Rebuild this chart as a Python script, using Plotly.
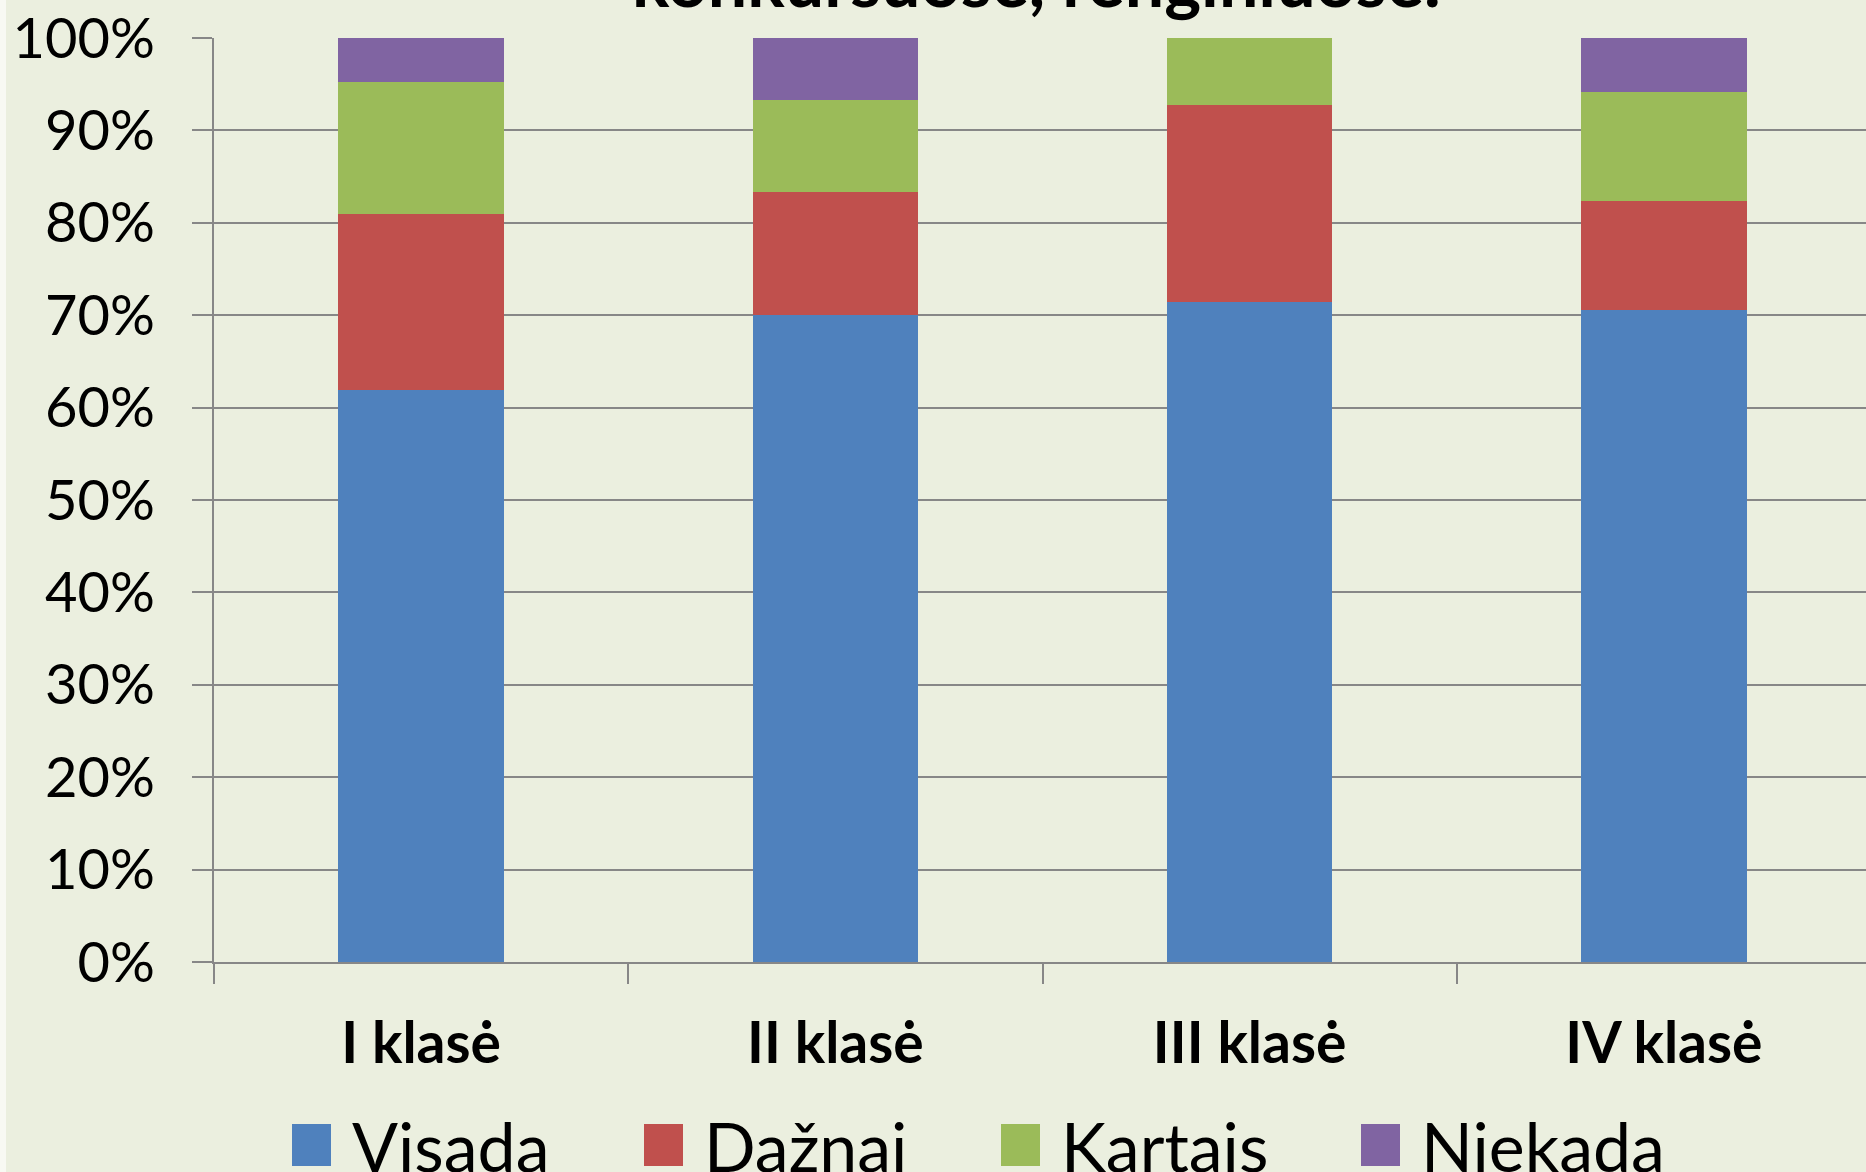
import plotly.graph_objects as go

categories = ["I klasė", "II klasė", "III klasė", "IV klasė"]
series_names = ["Visada", "Dažnai", "Kartais", "Niekada"]
visada = [0.619, 0.700, 0.714, 0.706]
daznai = [0.190, 0.133, 0.214, 0.118]
kartais = [0.143, 0.100, 0.072, 0.118]
niekada = [0.048, 0.067, 0.000, 0.058]
series_values = [visada, daznai, kartais, niekada]
colors = ["#4F81BD", "#C0504D", "#9BBB59", "#8064A2"]
title_text = "konkursuose, renginiuose."
y_tickvals = [i / 10 for i in range(11)]

W, H = 1866, 1172
ML, MT, MB = 214, 38, 210
PW = W - ML
PH = H - MT - MB
BG = "#EBEFDF"
GRID = "#878787"
FONT = "Lato"

fig = go.Figure()
for name, vals, col in zip(series_names, series_values, colors):
    fig.add_trace(go.Bar(x=categories, y=vals, name=name, marker=dict(color=col, line=dict(width=0)),
                         showlegend=False))

units_per_px = 4 / 1657
fig.update_layout(
    width=W, height=H,
    barmode="stack", bargap=0.6,
    paper_bgcolor=BG, plot_bgcolor=BG,
    margin=dict(l=ML, r=0, t=MT, b=MB, pad=0),
    xaxis=dict(range=[-0.5, -0.5 + PW * units_per_px], showline=True, linecolor=GRID, linewidth=2,
               ticks="outside", tickson="boundaries", ticklen=20, tickwidth=2, tickcolor=GRID,
               tickfont=dict(family=FONT, size=57, color="black", weight="bold"),
               ticklabelstandoff=31, showgrid=False),
    yaxis=dict(range=[0, 1], tickvals=y_tickvals, tickformat=".0%", showline=True, linecolor=GRID,
               linewidth=2, ticks="outside", ticklen=20, tickwidth=2, tickcolor=GRID,
               showgrid=True, gridcolor=GRID, gridwidth=2, zeroline=False,
               tickfont=dict(family=FONT, size=56, color="black"), ticklabelstandoff=26),
)

# title (partly cut off at top in the reference)
fig.add_annotation(text=title_text, xref="paper", yref="paper", x=0.498, y=1.015,
                   xanchor="center", yanchor="bottom", showarrow=False,
                   font=dict(family=FONT, size=70, color="black", weight="bold"))

# legend drawn with big square keys
leg_x = [292, 644, 1001, 1361]
sq_top, sq_bot = 1124, 1166
for px, name, col in zip(leg_x, series_names, colors):
    x0 = (px - ML) / PW
    x1 = (px + 39 - ML) / PW
    y0 = (H - MB - sq_bot) / PH
    y1 = (H - MB - sq_top) / PH
    fig.add_shape(type="rect", xref="paper", yref="paper", x0=x0, x1=x1, y0=y0, y1=y1,
                  fillcolor=col, line=dict(width=0))
    fig.add_annotation(text=name, xref="paper", yref="paper", x=(px + 58 - ML) / PW,
                       y=(H - MB - 1145) / PH, xanchor="left", yanchor="middle", showarrow=False,
                       font=dict(family=FONT, size=68, color="black"))

# thin light strip at the left edge
fig.add_shape(type="rect", xref="paper", yref="paper", x0=-ML / PW - 0.01, x1=(6 - ML) / PW,
              y0=-1, y1=2, fillcolor="#F8F9F3", line=dict(width=0), layer="below")

fig.write_html("out.html", config={"displayModeBar": False},
               post_script="document.body.style.margin='0';document.body.style.overflow='hidden';")
